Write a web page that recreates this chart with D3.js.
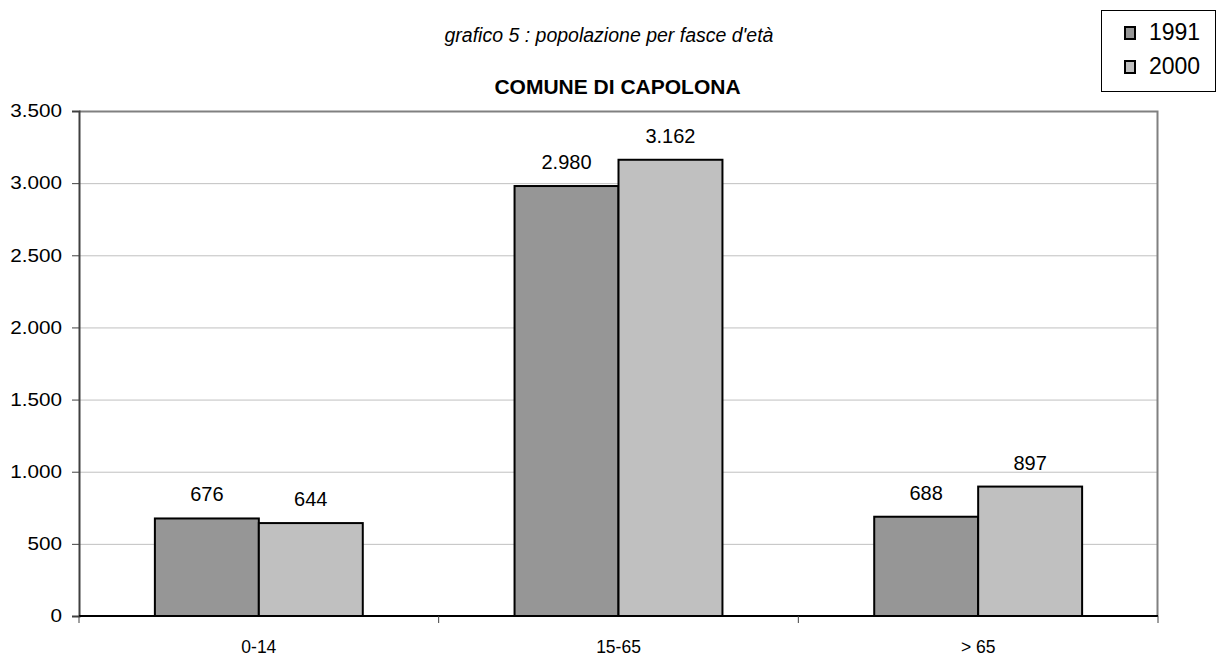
<!DOCTYPE html>
<html>
<head>
<meta charset="utf-8">
<script src="https://cdn.jsdelivr.net/npm/d3@7"></script>
<style>
  html, body { margin: 0; padding: 0; background: #fff; }
  svg { display: block; font-family: "Liberation Sans", Arial, sans-serif; }
</style>
</head>
<body>
<svg id="chart" width="1217" height="658"></svg>
<script>
// Age bands and population by census year
const categories = ["0-14", "15-65", "> 65"];
const seriesNames = ["1991", "2000"];
const values1991 = [676, 2980, 688];
const values2000 = [644, 3162, 897];
const yTicks = [0, 500, 1000, 1500, 2000, 2500, 3000, 3500];

const colors = { "1991": "#969696", "2000": "#c0c0c0" };
const series = [values1991, values2000];

const svg = d3.select("#chart");
const margin = { left: 79, right: 59, top: 111, bottom: 42 };
const W = 1217, H = 658;
const plotW = W - margin.left - margin.right;
const plotH = H - margin.top - margin.bottom;

const itFmt = d3.formatLocale({ decimal: ",", thousands: ".", grouping: [3], currency: ["€", ""] }).format(",d");

const x0 = d3.scaleBand().domain(categories).range([0, plotW]).paddingInner(0).paddingOuter(0);
const x1 = d3.scaleBand().domain(seriesNames).range([0, x0.bandwidth()]).paddingOuter(0.73).paddingInner(0);
const y = d3.scaleLinear().domain([0, 3500]).range([plotH, 0]);

const g = svg.append("g").attr("transform", `translate(${margin.left},${margin.top})`);

// gridlines
g.append("g").selectAll("line").data(yTicks.filter(t => t > 0 && t < 3500)).join("line")
  .attr("x1", 0).attr("x2", plotW)
  .attr("y1", d => y(d) + 0.5).attr("y2", d => y(d) + 0.5)
  .attr("stroke", "#c0c0c0").attr("stroke-width", 1);

// plot frame (top and right)
g.append("path")
  .attr("d", `M0,0.5H${plotW - 0.5}V${plotH}`)
  .attr("fill", "none").attr("stroke", "#808080").attr("stroke-width", 2);

// bars with value labels
categories.forEach((c, ci) => {
  seriesNames.forEach((s, si) => {
    const v = series[si][ci];
    g.append("rect")
      .attr("x", x0(c) + x1(s))
      .attr("y", y(v))
      .attr("width", x1.bandwidth())
      .attr("height", plotH - y(v))
      .attr("fill", colors[s])
      .attr("stroke", "#000").attr("stroke-width", 2);
    g.append("text")
      .attr("x", x0(c) + x1(s) + x1.bandwidth() / 2)
      .attr("y", y(v) - 17)
      .attr("text-anchor", "middle")
      .attr("font-size", 20)
      .attr("fill", "#000")
      .text(itFmt(v));
  });
});

// y axis
const yAxis = g.append("g").call(d3.axisLeft(y).tickValues(yTicks).tickSize(7).tickPadding(10).tickFormat(itFmt));
yAxis.select(".domain").attr("stroke", "#404040").attr("stroke-width", 2);
yAxis.selectAll(".tick line").attr("stroke", "#404040");
yAxis.selectAll(".tick text")
  .attr("font-size", 18).attr("fill", "#000").attr("font-family", "Liberation Sans, Arial, sans-serif")
  .attr("x", 0).attr("transform", "translate(-17,0) scale(1.15,1)");

// x axis
const xAxis = g.append("g").attr("transform", `translate(0,${plotH})`)
  .call(d3.axisBottom(x0).tickSize(0).tickPadding(25));
xAxis.select(".domain").attr("stroke", "#000").attr("stroke-width", 2).attr("d", `M0,0H${plotW}`);
xAxis.selectAll(".tick text").attr("font-size", 17.5).attr("fill", "#000").attr("font-family", "Liberation Sans, Arial, sans-serif");
// category boundary tick marks
g.append("g").selectAll("line").data(d3.range(categories.length + 1)).join("line")
  .attr("x1", i => i * x0.step()).attr("x2", i => i * x0.step())
  .attr("y1", plotH).attr("y2", plotH + 7)
  .attr("stroke", "#404040").attr("stroke-width", 1);

// titles
svg.append("text").attr("x", 609).attr("y", 42).attr("text-anchor", "middle")
  .attr("font-size", 19.5).attr("font-style", "italic").attr("fill", "#000")
  .text("grafico 5 : popolazione per fasce d'età");
svg.append("text").attr("x", 617.5).attr("y", 94).attr("text-anchor", "middle")
  .attr("font-size", 21).attr("font-weight", "bold").attr("fill", "#000")
  .text("COMUNE DI CAPOLONA");

// legend
const lg = svg.append("g");
lg.append("rect").attr("x", 1101.5).attr("y", 10.5).attr("width", 114).attr("height", 81)
  .attr("fill", "#fff").attr("stroke", "#000").attr("stroke-width", 1);
seriesNames.forEach((s, i) => {
  const yy = 27 + i * 34;
  lg.append("rect").attr("x", 1125).attr("y", yy).attr("width", 10).attr("height", 12)
    .attr("fill", colors[s]).attr("stroke", "#000").attr("stroke-width", 2);
  lg.append("text").attr("x", 1149).attr("y", yy + 13).attr("font-size", 23).attr("fill", "#000").text(s);
});
</script>
</body>
</html>
